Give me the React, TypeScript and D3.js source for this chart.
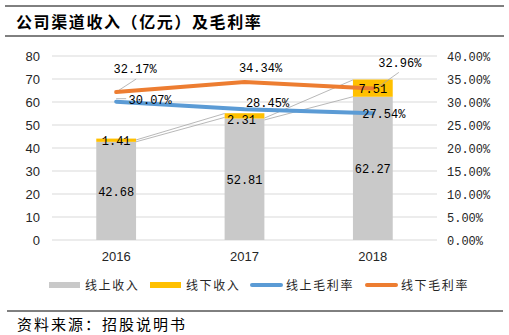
import React from "react";
import * as d3 from "d3";

const years = ["2016", "2017", "2018"];
const onlineRevenue = [42.68, 52.81, 62.27];
const offlineRevenue = [1.41, 2.31, 7.51];
const onlineMargin = [30.07, 28.45, 27.54];
const offlineMargin = [32.17, 34.34, 32.96];
const leftTicks = [0, 10, 20, 30, 40, 50, 60, 70, 80];
const rightTicks = [0, 5, 10, 15, 20, 25, 30, 35, 40];
const legendLabels = ["线上收入", "线下收入", "线上毛利率", "线下毛利率"];
const title = "公司渠道收入（亿元）及毛利率";
const source = "资料来源：招股说明书";

const C = { gray: "#C9C9C9", yellow: "#FFC000", blue: "#5B9BD5", orange: "#ED7D31", grid: "#D9D9D9", text: "#262626" };

export default function App() {
  const W = 509, H = 335;
  const plot = { l: 52, r: 437, t: 56, b: 240 };
  const x = d3.scaleBand().domain(years).range([plot.l, plot.r]).paddingInner(0.69).paddingOuter(0.345);
  const yL = d3.scaleLinear().domain([0, 80]).range([plot.b, plot.t]);
  const yR = d3.scaleLinear().domain([0, 40]).range([plot.b, plot.t]);
  const bw = x.bandwidth();
  const cx = (i: number) => (x(years[i]) as number) + bw / 2;
  const line = d3.line<number>().x((_, i) => cx(i)).y((d) => yR(d));
  const numFont = "'Liberation Mono', 'DejaVu Sans Mono', monospace";
  const sans = "'Liberation Sans', Arial, sans-serif";
  const cjk = "'Noto Sans CJK SC', sans-serif";

  const leaders: [number, number, number, number][] = [
    [cx(0), yR(offlineMargin[0]), cx(0) + 20, yR(offlineMargin[0]) - 13],
    [cx(2) + 5, yR(offlineMargin[2]) - 1, cx(2) + 26, yR(offlineMargin[2]) - 16],
    [cx(0), yR(onlineMargin[0]) - 3, cx(0) + 10, yR(onlineMargin[0]) - 3],
    [cx(0) + bw / 2, yL(43.5), cx(1) - bw / 2, yL(55)],
    [cx(0) + bw / 2, yL(42.7), cx(1) - bw / 2, yL(53.3)],
    [cx(1) + bw / 2, yL(53), cx(2) - bw / 2, yL(69.6)],
    [cx(1) + bw / 2, yL(52.2), cx(2) - bw / 2, yL(62.3)],
  ];

  const onlineLabelOff: [number, number][] = [[34, -2], [23, -7], [11, 0]];
  const offlineLabelOff: [number, number][] = [[19, -24], [16, -15], [27, -26]];

  const legendX = [49, 150, 250, 365];

  return (
    <svg width={W} height={H} style={{ position: "absolute", left: 0, top: 0, background: "#fff" }}>
      <line x1={5} x2={504} y1={6} y2={6} stroke="#000" strokeWidth={1} />
      <text x={16} y={28} fontFamily={cjk} fontWeight="bold" fontSize={16} letterSpacing={1.6} fill="#000">{title}</text>
      <line x1={5} x2={504} y1={36} y2={36} stroke="#000" strokeWidth={1} />

      {leftTicks.map((t) => (
        <g key={t}>
          <line x1={plot.l} x2={plot.r} y1={yL(t)} y2={yL(t)} stroke={C.grid} strokeWidth={1} />
          <text x={40} y={yL(t) + 4.5} textAnchor="end" fontFamily={sans} fontSize={13} fill={C.text}>{t}</text>
        </g>
      ))}
      {rightTicks.map((t) => (
        <text key={t} x={447} y={yR(t) + 4.5} fontFamily={numFont} fontSize={12} fill={C.text}>{d3.format(".2f")(t)}%</text>
      ))}

      {years.map((yr, i) => (
        <g key={yr}>
          <rect x={x(yr)} width={bw} y={yL(onlineRevenue[i])} height={yL(0) - yL(onlineRevenue[i])} fill={C.gray} />
          <rect x={x(yr)} width={bw} y={yL(onlineRevenue[i] + offlineRevenue[i])} height={yL(onlineRevenue[i]) - yL(onlineRevenue[i] + offlineRevenue[i])} fill={C.yellow} />
          <text x={cx(i)} y={yL(0) + 21} textAnchor="middle" fontFamily={sans} fontSize={13} fill={C.text}>{yr}</text>
        </g>
      ))}

      {leaders.map((l, i) => (
        <line key={i} x1={l[0]} y1={l[1]} x2={l[2]} y2={l[3]} stroke="#A6A6A6" strokeWidth={0.8} />
      ))}

      <path d={line(onlineMargin) || ""} fill="none" stroke={C.blue} strokeWidth={4} strokeLinecap="round" strokeLinejoin="round" />
      <path d={line(offlineMargin) || ""} fill="none" stroke={C.orange} strokeWidth={4} strokeLinecap="round" strokeLinejoin="round" />

      {years.map((yr, i) => (
        <g key={"lab" + yr} fontFamily={numFont} fontSize={12} fill="#000" textAnchor="middle">
          <text x={cx(i)} y={yL(onlineRevenue[i] / 2) + 5}>{onlineRevenue[i].toFixed(2)}</text>
          <text x={cx(i) - (i === 1 ? 3 : 0)} y={yL(onlineRevenue[i] + offlineRevenue[i] / 2) + 5 + (i === 1 ? 3 : 0)}>{offlineRevenue[i].toFixed(2)}</text>
          <text x={cx(i) + onlineLabelOff[i][0]} y={yR(onlineMargin[i]) + onlineLabelOff[i][1] + 4.5}>{onlineMargin[i].toFixed(2)}%</text>
          <text x={cx(i) + offlineLabelOff[i][0]} y={yR(offlineMargin[i]) + offlineLabelOff[i][1] + 4.5}>{offlineMargin[i].toFixed(2)}%</text>
        </g>
      ))}

      {legendLabels.map((lab, i) => (
        <g key={lab}>
          {i < 2 ? (
            <rect x={legendX[i]} y={282} width={31} height={6} fill={i === 0 ? C.gray : C.yellow} />
          ) : (
            <line x1={legendX[i] + 2} x2={legendX[i] + 31} y1={285} y2={285} stroke={i === 2 ? C.blue : C.orange} strokeWidth={4} strokeLinecap="round" />
          )}
          <text x={legendX[i] + 36} y={289.5} fontFamily={cjk} fontSize={12} letterSpacing={1.6} fill={C.text}>{lab}</text>
        </g>
      ))}

      <line x1={7} x2={503} y1={311} y2={311} stroke="#000" strokeWidth={1} />
      <text x={17} y={330} fontFamily={cjk} fontSize={15} letterSpacing={2} fill="#000">{source}</text>
    </svg>
  );
}
